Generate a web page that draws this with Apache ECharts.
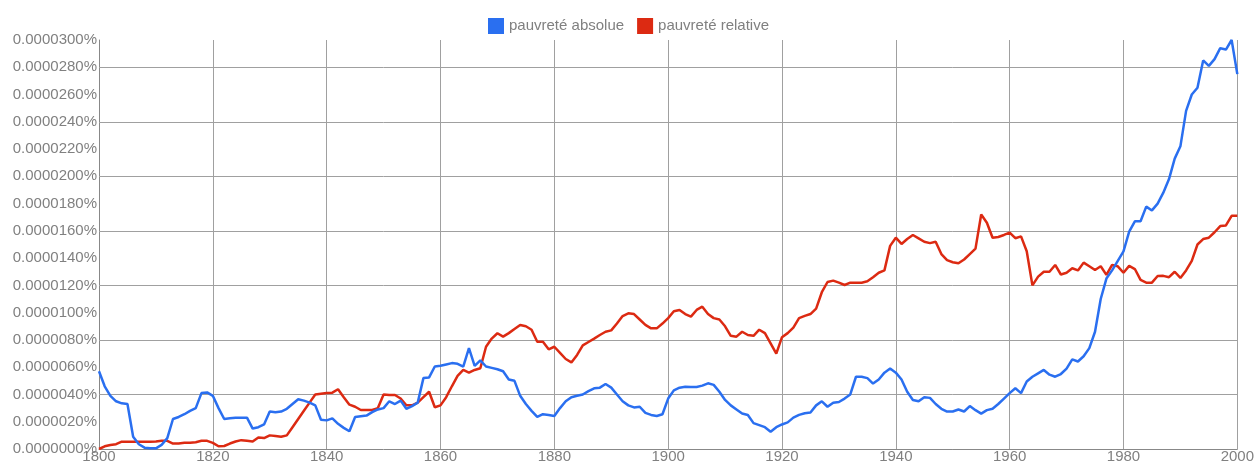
<!DOCTYPE html>
<html>
<head>
<meta charset="utf-8">
<script src="https://cdn.jsdelivr.net/npm/echarts@6/dist/echarts.min.js"></script>
<style>
html,body{margin:0;padding:0;background:#fff;}
#chart{width:1257px;height:464px;}
</style>
</head>
<body>
<div id="chart"></div>
<script>
// Values in millionths of a percent (1 = 0.0000010%)
const seriesNames = ['pauvreté absolue', 'pauvreté relative'];
const startYear = 1800;
const endYear = 2000;
const yTickStep = 2;
const gridLineValues = [4, 8, 12, 16, 20, 24, 28];

const absolue = [
 5.7,4.6,3.9,3.5,3.35,3.3,0.9,0.35,0.1,0.05,
 0.05,0.3,0.8,2.2,2.35,2.55,2.8,3.0,4.1,4.15,
 3.9,3.0,2.2,2.25,2.3,2.3,2.3,1.5,1.6,1.8,
 2.75,2.7,2.75,2.95,3.3,3.65,3.55,3.4,3.2,2.15,
 2.1,2.25,1.85,1.55,1.3,2.35,2.4,2.45,2.7,2.9,
 3.0,3.5,3.3,3.55,2.95,3.15,3.4,5.2,5.25,6.05,
 6.1,6.2,6.3,6.25,6.05,7.4,6.1,6.5,6.05,5.95,
 5.85,5.7,5.1,5.0,3.9,3.3,2.8,2.35,2.55,2.5,
 2.42,3.0,3.5,3.8,3.9,4.0,4.25,4.45,4.5,4.77,
 4.5,4.0,3.5,3.2,3.05,3.1,2.65,2.5,2.42,2.55,
 3.7,4.3,4.5,4.57,4.55,4.55,4.65,4.82,4.7,4.2,
 3.6,3.2,2.9,2.6,2.5,1.9,1.75,1.6,1.27,1.6,
 1.8,1.95,2.3,2.5,2.62,2.67,3.2,3.5,3.1,3.4,
 3.45,3.7,4.0,5.3,5.3,5.2,4.8,5.1,5.6,5.9,
 5.6,5.1,4.2,3.6,3.5,3.8,3.75,3.3,2.95,2.75,
 2.75,2.9,2.75,3.15,2.85,2.6,2.85,2.95,3.3,3.7,
 4.1,4.45,4.1,4.95,5.3,5.55,5.8,5.45,5.3,5.5,
 5.9,6.58,6.42,6.8,7.4,8.6,11.0,12.5,13.1,13.8,
 14.5,15.94,16.7,16.7,17.78,17.5,18.0,18.8,19.8,21.3,
 22.2,24.8,26.0,26.5,28.5,28.1,28.6,29.4,29.3,30.0,
 27.5
];

const relative = [
 0.0,0.2,0.3,0.35,0.54,0.54,0.54,0.54,0.54,0.54,
 0.55,0.6,0.6,0.4,0.4,0.45,0.45,0.5,0.6,0.6,
 0.45,0.2,0.22,0.4,0.55,0.65,0.6,0.55,0.85,0.8,
 1.0,0.95,0.9,1.0,1.6,2.2,2.8,3.4,4.0,4.05,
 4.1,4.13,4.38,3.8,3.25,3.1,2.86,2.86,2.86,3.0,
 4.0,3.96,3.96,3.7,3.2,3.2,3.4,3.8,4.2,3.06,
 3.2,3.8,4.6,5.36,5.8,5.6,5.8,5.92,7.5,8.1,
 8.49,8.24,8.5,8.8,9.1,9.0,8.75,7.87,7.87,7.31,
 7.5,7.05,6.6,6.35,6.9,7.6,7.85,8.1,8.36,8.6,
 8.7,9.2,9.75,9.95,9.9,9.5,9.1,8.85,8.85,9.2,
 9.6,10.1,10.2,9.9,9.71,10.2,10.44,9.9,9.6,9.5,
 9.0,8.3,8.24,8.6,8.36,8.3,8.75,8.5,7.75,7.0,
 8.2,8.5,8.9,9.6,9.76,9.9,10.3,11.5,12.25,12.35,
 12.2,12.03,12.2,12.2,12.2,12.3,12.6,12.93,13.1,14.9,
 15.5,15.04,15.4,15.7,15.45,15.2,15.1,15.2,14.3,13.85,
 13.7,13.62,13.9,14.3,14.7,17.2,16.6,15.5,15.55,15.7,
 15.87,15.46,15.6,14.5,12.0,12.64,13.0,13.0,13.5,12.8,
 12.93,13.26,13.1,13.67,13.4,13.13,13.4,12.77,13.5,13.4,
 12.93,13.43,13.2,12.4,12.2,12.2,12.69,12.7,12.6,13.0,
 12.55,13.1,13.8,15.0,15.4,15.5,15.9,16.35,16.4,17.1,
 17.1
];

const years = absolue.map((_, i) => startYear + i);
const toPairs = arr => arr.map((v, i) => [years[i], v]);

const chart = echarts.init(document.getElementById('chart'), null, {renderer: 'canvas'});
const fontFamily = '"Liberation Sans", Arial, Helvetica, sans-serif';
const gridColor = '#a0a0a0';
const labelColor = '#808080';

chart.setOption({
  animation: false,
  backgroundColor: '#ffffff',
  color: ['#2a6ff0', '#dc2a12'],
  legend: {
    data: seriesNames,
    top: 13,
    left: 'center',
    icon: 'rect',
    itemWidth: 16,
    itemHeight: 16,
    itemGap: 13,
    textStyle: {color: labelColor, fontSize: 15, fontFamily: fontFamily}
  },
  grid: {left: 99, right: 17, top: 40, bottom: 15, containLabel: false},
  xAxis: {
    type: 'value',
    min: startYear,
    max: endYear,
    interval: 20,
    axisLine: {show: true, lineStyle: {color: '#888', width: 1}},
    axisTick: {show: false},
    axisLabel: {color: labelColor, fontSize: 15, fontFamily: fontFamily, margin: 0,
      formatter: v => String(v)},
    splitLine: {show: true, lineStyle: {color: gridColor, width: 1}}
  },
  yAxis: {
    type: 'value',
    min: 0,
    max: 30,
    interval: yTickStep,
    axisLine: {show: true, lineStyle: {color: '#888', width: 1}},
    axisTick: {show: false},
    axisLabel: {color: labelColor, fontSize: 15, fontFamily: fontFamily, margin: 2,
      formatter: v => (v / 1e6).toFixed(7) + '%'},
    splitLine: {show: false}
  },
  series: [
    {
      name: seriesNames[0],
      type: 'line',
      data: toPairs(absolue),
      showSymbol: false,
      smooth: false,
      lineStyle: {width: 2.5},
      z: 3,
      markLine: {
        silent: true,
        symbol: ['none', 'none'],
        label: {show: false},
        lineStyle: {color: gridColor, width: 1, type: 'solid'},
        z: 1,
        data: gridLineValues.map(v => ({yAxis: v}))
      }
    },
    {
      name: seriesNames[1],
      type: 'line',
      data: toPairs(relative),
      showSymbol: false,
      smooth: false,
      lineStyle: {width: 2.5},
      z: 2
    }
  ]
});
</script>
</body>
</html>
